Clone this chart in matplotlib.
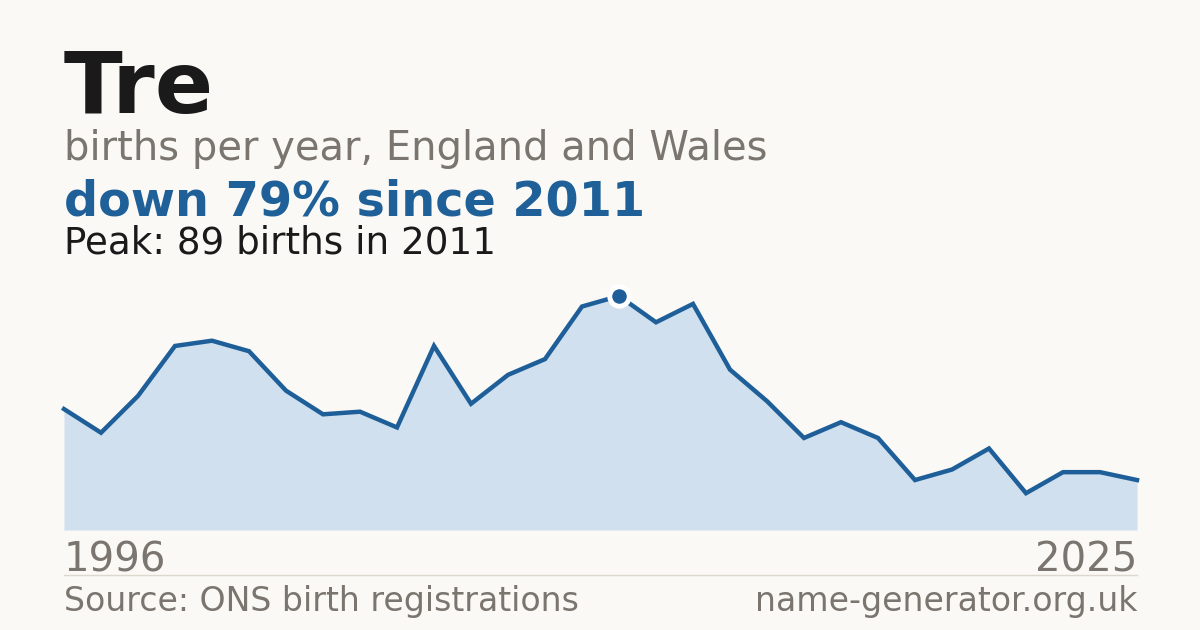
import matplotlib
matplotlib.use("Agg")
import matplotlib.pyplot as plt

years = list(range(1996, 2026))
births = [46, 37, 51, 70, 72, 68, 53, 44, 45, 39, 70, 48, 59, 65, 85, 89, 79, 86, 61, 49,
          35, 41, 35, 19, 23, 31, 14, 22, 22, 19]
peak_year = 2011
peak_value = 89

W, H = 1200, 630
BG = "#faf9f5"
LINE = "#1f5f99"
FILL = "#d0e0ef"
GREY = "#7a756e"
DARK = "#1a1a1a"
BLUE = "#1f6098"

plt.rcParams['font.family'] = ['DejaVu Sans']
fig = plt.figure(figsize=(W / 100, H / 100), dpi=100, facecolor=BG)

def fy(py):
    return 1 - py / H

left, right, top, bottom = 64, 1137, 296, 530
ax = fig.add_axes([left / W, fy(bottom), (right - left) / W, (bottom - top) / H])
ax.set_facecolor(BG)
ax.patch.set_alpha(0)
ax.fill_between(years, births, 0, color=FILL, lw=0)
ax.plot(years, births, color=LINE, lw=3.2, solid_joinstyle='miter', clip_on=False)
ax.plot([peak_year], [peak_value], 'o', ms=14, mfc=LINE, mec='white', mew=3.5, clip_on=False, zorder=5)
ax.set_xlim(1996, 2025)
ax.set_ylim(0, 89)
ax.axis('off')

def txt(x, y, s, size, color, weight='normal', ha='left'):
    fig.text(x / W, fy(y), s, fontsize=size, color=color, fontweight=weight, ha=ha, va='baseline')

txt(64, 113, "Tre", 62, DARK, 'bold')
txt(64, 160, "births per year, England and Wales", 28.8, GREY)
txt(64, 215, "down 79% since 2011", 34.4, BLUE, 'bold')
txt(64, 254, "Peak: 89 births in 2011", 26.8, DARK)
txt(64, 571, "1996", 28.9, GREY)
txt(1137, 571, "2025", 28.9, GREY, ha='right')
txt(64, 611, "Source: ONS birth registrations", 23.9, GREY)
txt(1137, 611, "name-generator.org.uk", 23.9, GREY, ha='right')

fig.add_artist(plt.Line2D([64 / W, 1137 / W], [fy(574.5), fy(574.5)], color="#dcd8d0", lw=1))

fig.savefig("out.png", dpi=100, facecolor=BG)
